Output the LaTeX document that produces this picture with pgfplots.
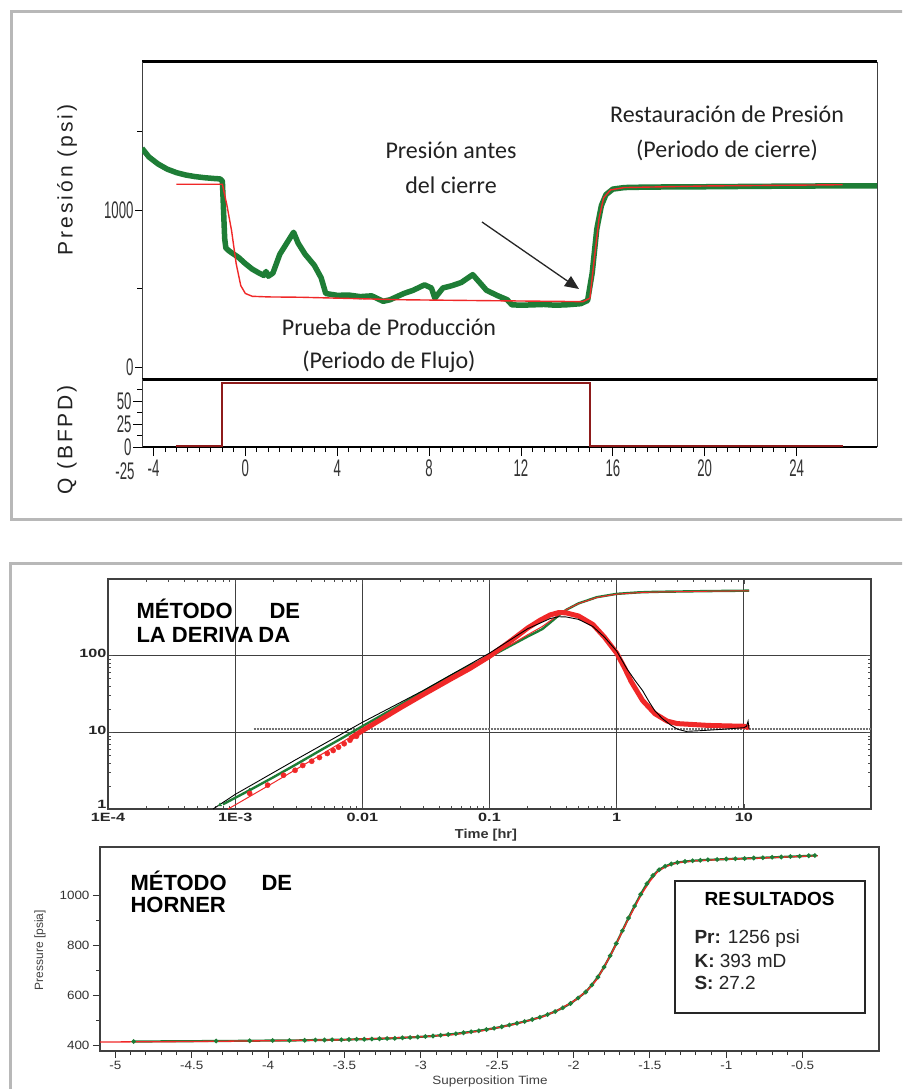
\documentclass[border=0pt]{standalone}
\usepackage{pgfplots}
\pgfplotsset{compat=1.18}
\usepackage{fontspec}
\setmainfont{Liberation Sans}
\newfontfamily\calfont{Carlito}
\newfontfamily\narrowfont[FakeStretch=0.55]{Liberation Sans}
\newfontfamily\widefont[FakeStretch=1.35]{Liberation Sans}
\newfontfamily\softwidefont[FakeStretch=1.12]{Liberation Sans}
\newfontfamily\spacedfont[LetterSpace=14]{Liberation Sans}
\usetikzlibrary{arrows.meta}
\definecolor{pgreen}{HTML}{1E7D36}
\definecolor{pred}{HTML}{F02828}
\definecolor{qred}{HTML}{8E1B1B}
\definecolor{framegray}{HTML}{B8B8B8}
\definecolor{txt}{HTML}{222222}

% test history: gauge pressure and model
\pgfplotstableread{
t p
-4.5 1395
-4.2 1340
-3.8 1295
-3.4 1262
-3.0 1240
-2.6 1225
-2.2 1215
-1.8 1208
-1.4 1203
-1.1 1200
-1.0 1185
-0.95 1000
-0.9 820
-0.85 760
-0.7 740
-0.5 720
-0.3 700
0.0 660
0.3 625
0.6 600
0.8 585
0.9 610
1.0 580
1.2 600
1.5 720
1.8 790
2.1 860
2.3 790
2.6 720
3.0 650
3.3 570
3.5 470
4.0 458
4.5 460
5.0 450
5.5 455
6.0 420
6.3 430
6.9 470
7.3 490
7.8 525
8.1 505
8.25 440
8.6 505
9.0 520
9.4 540
9.9 590
10.2 540
10.5 490
11.0 455
11.4 430
11.6 398
12.0 395
13.0 400
13.5 395
14.0 398
14.6 405
14.9 425
15.1 600
15.3 880
15.5 1030
15.7 1100
16.0 1135
16.5 1145
17.5 1148
20 1150
22.6 1153
25 1155
27.5 1155
}\gaugetable
\pgfplotstableread{
t p
-3.0 1166
-1.0 1166
-0.8 1030
-0.6 870
-0.4 660
-0.2 520
0.0 470
0.3 452
1.0 448
2.4 446
6.8 430
10 425
14.7 418
15.0 440
15.2 700
15.4 950
15.6 1080
15.9 1130
16.5 1145
20 1155
26 1163
}\modeltable

\begin{document}
\begin{tikzpicture}[x=1pt,y=1pt]
\path[use as bounding box] (0,0) rectangle (902,-1089);
\clip (0,0) rectangle (902,-1089);
\fill[white] (0,0) rectangle (902,-1089);
\draw[framegray, line width=3pt] (11,-12) rectangle (920,-519);
\draw[framegray, line width=3pt] (10,-563) rectangle (920,-1100);

% ---------- pressure history ----------
\begin{axis}[at={(142pt,-62pt)}, anchor=north west, scale only axis,
  width=735pt, height=317pt,
  xmin=-4.5, xmax=27.5, ymin=-75, ymax=1945,
  xtick=\empty, ytick={0,1000}, minor ytick={500,1500},
  ytick pos=left, tick align=outside,
  major tick length=7pt, minor tick length=5pt,
  tick style={black, line width=0.8pt},
  separate axis lines,
  every outer x axis line/.append style={line width=3pt, black},
  every outer y axis line/.append style={line width=1pt, black!75},
  /pgf/number format/assume math mode=true,
  /pgf/number format/1000 sep={},
  yticklabel style={font=\narrowfont\fontsize{24}{24}\selectfont, text=black!80, xshift=2pt},
  clip=true]
\addplot[pgreen, line width=5.5pt, line join=round] table[x=t,y=p] {\gaugetable};
\addplot[pred, line width=1.4pt] table[x=t,y=p] {\modeltable};
\end{axis}

% ---------- rate ----------
\begin{axis}[at={(142pt,-379pt)}, anchor=north west, scale only axis,
  width=735pt, height=68pt,
  xmin=-4.5, xmax=27.5, ymin=0, ymax=74,
  xtick={-4,0,...,24}, minor x tick num=7,
  ytick={0,25,50}, minor ytick={12.5,37.5,62.5},
  xtick pos=bottom, ytick pos=left, tick align=outside,
  major tick length=9pt, minor tick length=5pt,
  tick style={black, line width=0.9pt},
  separate axis lines,
  every outer x axis line/.append style={line width=2.5pt, black},
  every outer y axis line/.append style={line width=1pt, black!75},
  /pgf/number format/assume math mode=true,
  xticklabel style={font=\narrowfont\fontsize{24}{24}\selectfont, text=black!80},
  yticklabel style={font=\narrowfont\fontsize{24}{24}\selectfont, text=black!80, xshift=2pt},
  clip=false]
\addplot[qred, line width=2.2pt] coordinates {(-3,0.8) (-1,0.8) (-1,70) (15,70) (15,0.8) (26,0.8)};
\node[font=\narrowfont\fontsize{24}{24}\selectfont, text=black!80, anchor=east] at (rel axis cs:0,0) [xshift=-4pt, yshift=-24pt] {-25};
\end{axis}

% top panel labels
\node[rotate=90, font=\spacedfont\fontsize{21}{21}\selectfont, text=txt] at (67,-180) {Presión (psi)};
\node[rotate=90, font=\spacedfont\fontsize{21}{21}\selectfont, text=txt] at (67,-440) {Q (BFPD)};
\begin{scope}[font=\calfont\fontsize{24}{24}\selectfont, text=txt]
\node at (727,-114) {Restauración de Presión};
\node at (727,-150) {(Periodo de cierre)};
\node at (451,-150) {Presión antes};
\node at (451,-185) {del cierre};
\node at (389,-327) {Prueba de Producción};
\node at (389,-362) {(Periodo de Flujo)};
\end{scope}
\draw[black!85, line width=1.3pt, -{Triangle[length=14pt,width=12pt]}] (482,-222) -- (579,-289);

% ---------- derivative plot ----------
\begin{axis}[at={(108pt,-579pt)}, anchor=north west, scale only axis,
  width=763pt, height=230pt,
  xmode=log, ymode=log, xmin=1e-4, xmax=100, ymin=1, ymax=1000,
  xtick={1e-4,1e-3,1e-2,1e-1,1,10}, xticklabels={1E-4,1E-3,0.01,0.1,1,10},
  ytick={1,10,100}, yticklabels={\raisebox{6pt}{1},10,100},
  grid=major, major grid style={black!75, line width=1.1pt},
  tick align=inside, major tick length=5pt, minor tick length=3pt,
  tick style={black!70, line width=0.6pt},
  axis line style={black!75, line width=1.2pt},
  xticklabel style={font=\widefont\bfseries\fontsize{12}{12}\selectfont, text=black!85, yshift=-1pt},
  yticklabel style={font=\widefont\bfseries\fontsize{12}{12}\selectfont, text=black!85, yshift=2pt, xshift=2pt},
  clip=true]
\addplot[black!55, densely dotted, line width=2pt] coordinates {(0.0014,11) (100,11)};
% pressure change, data and model
\addplot[pgreen, line width=2.4pt] coordinates {
(0.0008,1.15) (0.0013,1.76) (0.002,2.6) (0.003,3.8) (0.005,6.2) (0.007,8.5)
(0.01,12) (0.02,23) (0.03,34) (0.05,55) (0.07,74) (0.1,96) (0.15,138)
(0.2,178) (0.26,222) (0.3,270) (0.35,335) (0.4,395) (0.5,480) (0.7,580)
(1,640) (1.5,670) (2,680) (5,695) (11,705)};
\addplot[only marks, mark=triangle*, mark size=2pt, pgreen] coordinates {(0.00076,1.13) (0.0013,1.76)};
\addplot[pred, line width=1pt] coordinates {
(0.01,11) (0.02,22) (0.03,33) (0.05,54) (0.07,73) (0.1,98) (0.15,142)
(0.2,188) (0.26,240) (0.3,285) (0.35,340) (0.4,398) (0.5,478) (0.7,575)
(1,635) (1.5,665) (2,676) (5,692) (11,702)};
% derivative, data
\addplot[only marks, mark=*, mark size=2.6pt, pred] coordinates {
(0.0013,1.6) (0.0018,2.05) (0.0024,2.76) (0.00296,3.2) (0.0034,3.7) (0.004,4.2)
(0.0046,4.7) (0.0053,5.3) (0.0059,5.8) (0.0065,6.4) (0.0072,7.1) (0.008,7.9) (0.009,8.9)};
\addplot[pred, line width=5pt, line join=round] coordinates {
(0.008,8.3) (0.01,10.5) (0.02,21) (0.03,31) (0.05,50) (0.07,68) (0.1,98)
(0.15,160) (0.2,230) (0.25,290) (0.3,340) (0.35,365) (0.4,362) (0.5,330)
(0.65,255) (0.8,175) (1.0,108) (1.15,70) (1.3,46) (1.6,26) (2.0,17.5) (2.5,14) (3.0,13)
(5.3,12.3) (10,12) (11,11.5)};
% derivative, model
\addplot[pred, line width=1pt] coordinates {(0.00088,1) (0.002,2.2) (0.005,5.4) (0.01,10.7)};
\addplot[black, line width=0.9pt] coordinates {
(0.00067,1) (0.001,1.55) (0.003,4.4) (0.01,13.5) (0.03,35) (0.1,108) (0.2,225)
(0.3,305) (0.35,322) (0.4,320) (0.5,298) (0.65,240) (0.8,175) (1.0,115)
(1.2,68) (1.4,47) (1.6,35) (1.8,25) (2.0,19) (2.3,15) (2.65,12.5) (3.0,11)
(3.5,10.3) (4.5,10.5) (7,11) (10,11.5) (10.5,12) (10.8,14) (11,11)};
\end{axis}
\node[font=\softwidefont\bfseries\fontsize{13}{13}\selectfont, text=black!80] at (486,-835) {Time [hr]};
\begin{scope}[font=\bfseries\fontsize{22}{22}\selectfont, text=black]
\node[anchor=base west] at (133,-618) {MÉTODO};
\node[anchor=base west] at (266,-618) {DE};
\node[anchor=base west] at (133,-642) {LA DERIVA\kern5pt DA};
\end{scope}

% ---------- Horner plot ----------
\begin{axis}[at={(100pt,-847pt)}, anchor=north west, scale only axis,
  width=779pt, height=204pt,
  xmin=-5.1, xmax=0, ymin=376, ymax=1192,
  xtick={-5,-4.5,...,-0.5}, xticklabels={-5,-4.5,-4,-3.5,-3,-2.5,-2,-1.5,-1,-0.5},
  minor x tick num=4,
  ytick={400,600,800,1000}, minor y tick num=1,
  xtick pos=bottom, ytick pos=left, tick align=outside,
  major tick length=7pt, minor tick length=4pt,
  tick style={black!80, line width=0.8pt},
  axis line style={black!75, line width=1.3pt},
  /pgf/number format/assume math mode=true,
  /pgf/number format/1000 sep={},
  xticklabel style={font=\softwidefont\fontsize{12}{12}\selectfont, text=black!80},
  yticklabel style={font=\softwidefont\fontsize{12}{12}\selectfont, text=black!80},
  clip=true]
\addplot[pgreen, line width=2.2pt, mark=*, mark size=1pt, mark options={fill=pgreen!60!black, draw=none}] coordinates {
(-4.88,414) (-4.34,416) (-4.12,417) (-3.97,418) (-3.86,418) (-3.76,419) (-3.69,420)
(-3.63,420) (-3.58,421) (-3.52,421) (-3.47,422) (-3.42,423) (-3.37,423) (-3.32,424)
(-3.27,425) (-3.22,426) (-3.17,427) (-3.12,429) (-3.07,430) (-3.02,432) (-2.97,434)
(-2.92,436) (-2.87,439) (-2.82,442) (-2.77,445) (-2.72,449) (-2.67,453) (-2.62,457)
(-2.57,462) (-2.52,467) (-2.47,473) (-2.42,480) (-2.37,487) (-2.32,494) (-2.27,502)
(-2.22,511) (-2.17,522) (-2.12,534) (-2.07,549) (-2.02,566) (-1.97,588) (-1.92,612)
(-1.88,640) (-1.84,672) (-1.80,712) (-1.76,757) (-1.72,806) (-1.68,857) (-1.64,908)
(-1.60,956) (-1.56,1003) (-1.52,1045) (-1.48,1078) (-1.44,1101) (-1.40,1115)
(-1.36,1124) (-1.32,1130) (-1.27,1134) (-1.22,1137) (-1.17,1139) (-1.12,1141)
(-1.06,1142) (-1.0,1144) (-0.94,1145) (-0.88,1146) (-0.82,1148) (-0.76,1149)
(-0.70,1151) (-0.64,1152) (-0.58,1154) (-0.52,1155) (-0.46,1157) (-0.42,1158)};
\addplot[pred, line width=1.3pt] coordinates {
(-5.1,412) (-4.5,414) (-4.0,417) (-3.5,421) (-3.0,433) (-2.8,441) (-2.6,457)
(-2.4,481) (-2.2,513) (-2.1,540) (-2.0,575) (-1.95,598) (-1.9,625) (-1.85,660)
(-1.8,712) (-1.75,768) (-1.7,830) (-1.65,893) (-1.6,952) (-1.55,1008) (-1.5,1055)
(-1.45,1093) (-1.4,1112) (-1.35,1124) (-1.3,1131) (-1.2,1137) (-1.0,1143)
(-0.8,1147) (-0.6,1152) (-0.4,1157)};
\end{axis}
\node[rotate=90, font=\fontsize{12}{12}\selectfont, text=black!75] at (40,-950) {Pressure [psia]};
\node[font=\softwidefont\fontsize{12}{12}\selectfont, text=black!75] at (490,-1081) {Superposition Time};
\begin{scope}[font=\bfseries\fontsize{22}{22}\selectfont, text=black]
\node[anchor=base west] at (127,-890) {MÉTODO};
\node[anchor=base west] at (258,-890) {DE};
\node[anchor=base west] at (127,-912) {HORNER};
\end{scope}
\draw[black!85, line width=1.5pt, fill=white] (675,-881) rectangle (865,-1013);
\node[font=\bfseries\fontsize{19}{19}\selectfont, anchor=west] at (701,-899) {RE\kern2pt SULTADOS};
\begin{scope}[font=\fontsize{19}{19}\selectfont, text=black!85]
\node[anchor=west] at (691,-939) {\textbf{Pr:} 1256 psi};
\node[anchor=west] at (691,-961) {\textbf{K:} 393 mD};
\node[anchor=west] at (691,-983) {\textbf{S:} 27.2};
\end{scope}
\end{tikzpicture}
\end{document}
